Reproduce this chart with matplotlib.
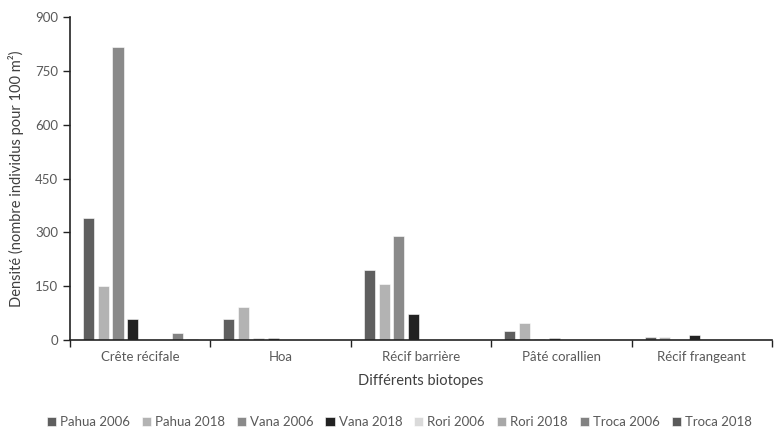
import numpy as np
import matplotlib.pyplot as plt

plt.rcParams['font.family'] = ['Lato', 'DejaVu Sans']

biotopes = ["Crête récifale", "Hoa", "Récif barrière", "Pâté corallien", "Récif frangeant"]
series = ["Pahua 2006", "Pahua 2018", "Vana 2006", "Vana 2018",
          "Rori 2006", "Rori 2018", "Troca 2006", "Troca 2018"]
pahua_2006 = [340, 60, 195, 25, 10]
pahua_2018 = [152, 91, 157, 47, 10]
vana_2006 = [817, 5, 290, 3, 0]
vana_2018 = [58, 7, 74, 5, 13]
rori_2006 = [0, 0, 0, 0, 0]
rori_2018 = [0, 0, 0, 0, 0]
troca_2006 = [19, 0, 0, 0, 0]
troca_2018 = [2, 0, 0, 0, 0]
values = [pahua_2006, pahua_2018, vana_2006, vana_2018,
          rori_2006, rori_2018, troca_2006, troca_2018]
colors = ["#5f5f5f", "#b3b3b3", "#8a8a8a", "#222222",
          "#dadada", "#a8a8a8", "#828282", "#5a5a5a"]

fig = plt.figure(figsize=(7.75, 4.3), dpi=100)
ax = fig.add_axes([0.0903, 0.209, 0.906, 0.751])

x = np.arange(len(biotopes))
slot = 0.1054
for i, (name, vals) in enumerate(zip(series, values)):
    ax.bar(x + (i - 3.5) * slot, vals, width=0.079, color=colors[i],
           edgecolor="white", linewidth=0.4, label=name, zorder=2)

ax.set_xlim(-0.5, len(biotopes) - 0.5)
ax.set_ylim(0, 900)
ax.set_yticks(np.arange(0, 901, 150))
ax.set_xticks(x)
ax.set_xticklabels(biotopes)
ax.set_xticks(np.arange(-0.5, len(biotopes), 1), minor=True)
ax.tick_params(axis="x", which="major", length=0, pad=8)
ax.tick_params(axis="x", which="minor", length=5, width=1, color="#222222")
ax.tick_params(axis="y", length=5, width=1, color="#222222")
ax.tick_params(labelsize=9.5, labelcolor="#595959")

for s in ["top", "right"]:
    ax.spines[s].set_visible(False)
for s in ["left", "bottom"]:
    ax.spines[s].set_color("#222222")
    ax.spines[s].set_linewidth(1.2)

ax.set_xlabel("Différents biotopes", fontsize=10.5, color="#404040", labelpad=8)
ax.set_ylabel("Densité (nombre individus pour 100 m²)", fontsize=10.5, color="#404040", labelpad=8)

fig.legend(loc="center", bbox_to_anchor=(0.515, 0.018), ncol=8, frameon=False,
           fontsize=9.5, handlelength=0.7, handleheight=0.7, handletextpad=0.3,
           columnspacing=0.9, labelcolor="#595959")

fig.savefig("out.png", dpi=100)
